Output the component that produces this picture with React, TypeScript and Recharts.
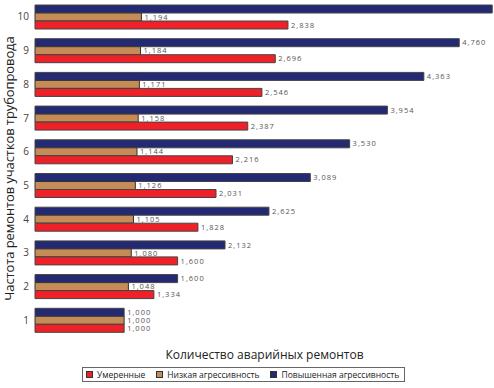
import React from "react";
import { BarChart, Bar, XAxis, YAxis, Legend, LabelList } from "recharts";

const categories = ["1", "2", "3", "4", "5", "6", "7", "8", "9", "10"];
const moderate = [1.0, 1.334, 1.6, 1.828, 2.031, 2.216, 2.387, 2.546, 2.696, 2.838];
const lowAggr = [1.0, 1.048, 1.08, 1.105, 1.126, 1.144, 1.158, 1.171, 1.184, 1.194];
const highAggr = [1.0, 1.6, 2.132, 2.625, 3.089, 3.53, 3.954, 4.363, 4.76, 5.13];

const data = categories.map((c, i) => ({
  cat: c,
  moderate: moderate[i],
  low: lowAggr[i],
  high: highAggr[i],
}));

const FONT = "'Open Sans', sans-serif";

// legend order differs from the stacking order of bars
const legendItems = [
  { name: "Умеренные", color: "#ee2128" },
  { name: "Низкая агрессивность", color: "#c58c57" },
  { name: "Повышенная агрессивность", color: "#232a73" },
];

const fmt = (v: any) => (Number(v) > 5 ? "" : Number(v).toFixed(3).replace(".", ","));

const renderLegend = () => (
  <div
    style={{
      display: "flex",
      alignItems: "center",
      border: "1px solid #666",
      height: 15,
      width: 323,
      boxSizing: "border-box",
      paddingLeft: 3,
      fontFamily: FONT,
      fontSize: 8.5,
      color: "#222",
      whiteSpace: "nowrap",
    }}
  >
    {legendItems.map((it) => (
      <span key={it.name} style={{ display: "flex", alignItems: "center", marginRight: 11 }}>
        <span
          style={{
            display: "inline-block",
            width: 5,
            height: 5,
            background: it.color,
            border: "1px solid #333",
            marginRight: 4,
          }}
        />
        {it.name}
      </span>
    ))}
  </div>
);

const labelProps = {
  position: "right" as const,
  offset: 3,
  formatter: fmt,
  style: { fontSize: 7.5, fill: "#555", fontFamily: FONT, letterSpacing: 1 },
};

export default function App() {
  return (
    <div style={{ position: "absolute", left: 0, top: 0, width: 494, height: 388, background: "#fff" }}>
      <BarChart
        layout="vertical"
        width={494}
        height={388}
        data={data}
        margin={{ top: 0, right: 0, left: 0, bottom: 36 }}
        barSize={8}
        barGap={0}
      >
        <XAxis type="number" hide domain={[0, 5.15]} />
        <YAxis
          type="category"
          dataKey="cat"
          reversed
          width={35}
          axisLine={false}
          tickLine={false}
          tickSize={0}
          tickMargin={6}
          tick={{ fontSize: 10, fill: "#444", fontFamily: FONT }}
          label={{
            value: "Частота ремонтов участков трубопровода",
            angle: -90,
            position: "insideLeft",
            offset: 0,
            dx: 9,
            dy: 0,
            style: { fontSize: 13, letterSpacing: -0.1, fill: "#222", fontFamily: FONT, textAnchor: "middle" },
          }}
        />
        <Bar dataKey="high" name="Повышенная агрессивность" fill="#232a73" stroke="#444" strokeWidth={1} isAnimationActive={false}>
          <LabelList dataKey="high" {...labelProps} />
        </Bar>
        <Bar dataKey="low" name="Низкая агрессивность" fill="#c58c57" stroke="#333" strokeWidth={1} isAnimationActive={false}>
          <LabelList dataKey="low" {...labelProps} />
        </Bar>
        <Bar dataKey="moderate" name="Умеренные" fill="#ee2128" stroke="#444" strokeWidth={1} isAnimationActive={false}>
          <LabelList dataKey="moderate" {...labelProps} />
        </Bar>
        <Legend
          content={renderLegend}
          wrapperStyle={{ left: 82, top: 367, width: 323, height: 15 }}
        />
      </BarChart>
      <div
        style={{
          position: "absolute",
          left: 35,
          width: 459,
          top: 346,
          textAlign: "center",
          fontFamily: FONT,
          fontSize: 12,
          color: "#222",
        }}
      >
        Количество аварийных ремонтов
      </div>
    </div>
  );
}
